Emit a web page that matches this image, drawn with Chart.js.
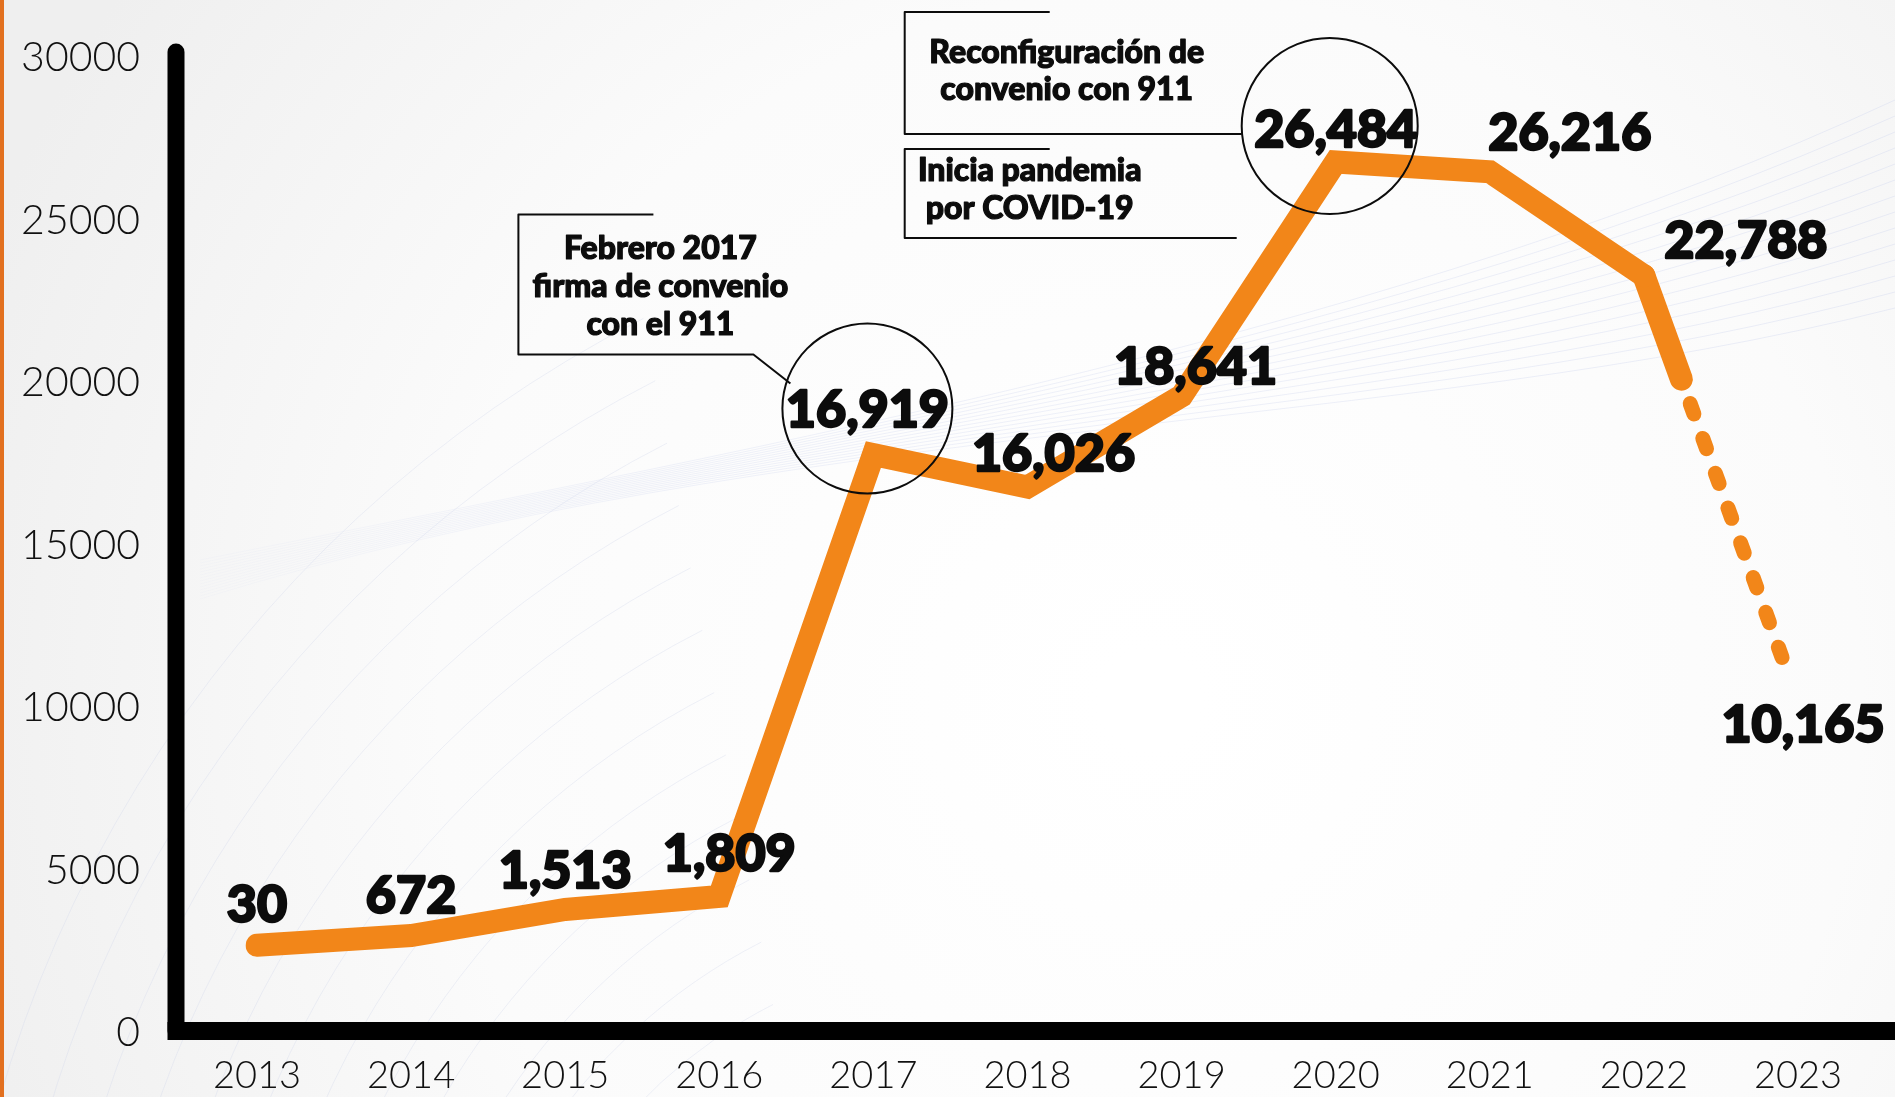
<!DOCTYPE html>
<html><head><meta charset="utf-8">
<script src="https://cdn.jsdelivr.net/npm/chart.js@4.4.0/dist/chart.umd.min.js"></script>
<style>html,body{margin:0;padding:0;background:#f4f4f4;overflow:hidden}canvas{display:block}</style>
</head><body>
<canvas id="c" width="1895" height="1097"></canvas>
<script>
// ---- data ----
const years = ['2013','2014','2015','2016','2017','2018','2019','2020','2021','2022','2023'];
// line heights as drawn in the picture
const plotted = [2700, 3000, 3800, 4200, 17800, 16800, 19600, 26800, 26500, 23300, 10200];
// values printed next to each point
const printed = [30, 672, 1513, 1809, 16919, 16026, 18641, 26484, 26216, 22788, 10165];
const yTicks = [0, 5000, 10000, 15000, 20000, 25000, 30000];
const circled = ['2017', '2020'];
const noteFeb2017 = ['Febrero 2017', 'firma de convenio', 'con el 911'];
const noteReconf = ['Reconfiguración de', 'convenio con 911'];
const notePandemia = ['Inicia pandemia', 'por COVID-19'];

const solidValues = plotted.map((v, i) => i < years.length - 1 ? v : null);
const trendValues = plotted.map((v, i) => i >= years.length - 2 ? v : null);

// ---- styles ----
const ORANGE = '#F28619';
const INK = '#0c0c0c';
const labelOffsets = [[0,-42],[0,-42],[0,-41],[10,-45],[-6,-47],[26,-35],[14,-31],[0,-34],[80,-41],[102,-37],[5,21]];
const circleOffsets = {'2017': [-6,-46,85], '2020': [-6,-36,88]};

const bgPlugin = {
  id: 'bg',
  beforeDraw(chart) {
    const {ctx, width, height} = chart;
    ctx.save();
    const g = ctx.createRadialGradient(1150, 700, 50, 1150, 700, 1250);
    g.addColorStop(0, '#ffffff');
    g.addColorStop(0.55, '#fbfbfb');
    g.addColorStop(1, '#efefef');
    ctx.fillStyle = g;
    ctx.fillRect(0, 0, width, height);
    ctx.strokeStyle = 'rgba(210,214,236,0.35)';
    ctx.lineWidth = 1;
    for (let k = 0; k < 12; k++) {
      ctx.beginPath();
      const r = 500 + k * 70;
      ctx.arc(1000 + k * 20, 1450, r, Math.PI * 1.0, Math.PI * 1.35);
      ctx.stroke();
    }
    for (let k = 0; k < 14; k++) {
      const lg = ctx.createLinearGradient(0, 0, 1895, 0);
      lg.addColorStop(0, 'rgba(212,218,240,0)');
      lg.addColorStop(0.35, 'rgba(212,218,240,0.35)');
      lg.addColorStop(1, 'rgba(212,218,240,0.45)');
      ctx.strokeStyle = lg;
      ctx.beginPath();
      ctx.moveTo(200, 560 + k * 3);
      ctx.bezierCurveTo(800, 440 - k * 2, 1400, 330 + k * 8, 1895, 100 + k * 16);
      ctx.stroke();
    }
    ctx.fillStyle = '#E2701F';
    ctx.fillRect(0, 0, 4, height);
    ctx.restore();
  }
};

const axesPlugin = {
  id: 'axesLines',
  beforeDatasetsDraw(chart) {
    const {ctx, chartArea, width} = chart;
    const ax = chartArea.left - 81;
    const by = chartArea.bottom - 2;
    ctx.save();
    ctx.strokeStyle = '#000';
    ctx.lineCap = 'round';
    ctx.lineWidth = 17;
    ctx.beginPath();
    ctx.moveTo(ax, chartArea.top - 6);
    ctx.lineTo(ax, by);
    ctx.stroke();
    ctx.lineCap = 'butt';
    ctx.lineWidth = 18;
    ctx.beginPath();
    ctx.moveTo(ax - 8.5, by);
    ctx.lineTo(width, by);
    ctx.stroke();
    ctx.restore();
  }
};

function heavyText(ctx, t, x, y, sw) {
  ctx.lineWidth = sw;
  ctx.lineJoin = 'round';
  ctx.strokeText(t, x, y);
  ctx.fillText(t, x, y);
}
function drawLines(ctx, lines, cx, cy, gap) {
  ctx.textAlign = 'center';
  lines.forEach((t, i) => heavyText(ctx, t, cx, cy + i * gap, 1.2));
}

const labelPlugin = {
  id: 'labels',
  afterDatasetsDraw(chart) {
    const {ctx} = chart;
    const xs = chart.scales.x, ys = chart.scales.y;
    ctx.save();
    ctx.fillStyle = INK;
    ctx.strokeStyle = INK;
    ctx.font = '900 52px Lato';
    ctx.textAlign = 'center';
    ctx.textBaseline = 'alphabetic';
    const pts = years.map((y, i) => [xs.getPixelForValue(i), ys.getPixelForValue(plotted[i])]);
    printed.forEach((v, i) => {
      const [dx, dy] = labelOffsets[i];
      heavyText(ctx, v.toLocaleString('en-US'), pts[i][0] + dx, pts[i][1] + dy + 19, 2.4);
    });
    ctx.lineWidth = 2;
    const circ = {};
    circled.forEach(yr => {
      const i = years.indexOf(yr);
      const [dx, dy, r] = circleOffsets[yr];
      const cx = pts[i][0] + dx, cy = pts[i][1] + dy;
      circ[yr] = [cx, cy, r];
      ctx.beginPath();
      ctx.arc(cx, cy, r, 0, Math.PI * 2);
      ctx.stroke();
    });
    ctx.lineCap = 'butt';
    ctx.font = '900 32px Lato';
    {
      const [cx, cy, r] = circ['2017'];
      const L = cx - 349, T = cy - 194, B = cy - 54;
      ctx.lineWidth = 2;
      ctx.beginPath();
      ctx.moveTo(L + 135, T); ctx.lineTo(L, T); ctx.lineTo(L, B); ctx.lineTo(L + 235, B);
      ctx.lineTo(cx - 77, cy - 25);
      ctx.stroke();
      drawLines(ctx, noteFeb2017, L + 142, T + 44, 38);
    }
    {
      const [cx, cy, r] = circ['2020'];
      const L = cx - 425;
      let T = cy - 114, B = cy + 8;
      ctx.lineWidth = 2;
      ctx.beginPath();
      ctx.moveTo(L + 145, T); ctx.lineTo(L, T); ctx.lineTo(L, B); ctx.lineTo(cx - r, B);
      ctx.stroke();
      drawLines(ctx, noteReconf, L + 162, T + 51, 37);
      T = cy + 23; B = cy + 112;
      ctx.lineWidth = 2;
      ctx.beginPath();
      ctx.moveTo(L + 145, T); ctx.lineTo(L, T); ctx.lineTo(L, B); ctx.lineTo(cx - r - 5, B);
      ctx.stroke();
      drawLines(ctx, notePandemia, L + 125, T + 32, 38);
    }
    ctx.restore();
  }
};

// dash pattern for the projected 2022-2023 stretch: skip the thick solid part, then 8 short dashes
const trendDash = [0, 136];
for (let k = 0; k < 7; k++) trendDash.push(11, 26);
trendDash.push(11, 3000);

new Chart(document.getElementById('c'), {
  type: 'line',
  data: {
    labels: years,
    datasets: [
      {data: solidValues, borderColor: ORANGE, borderWidth: 23, borderCapStyle: 'round', borderJoinStyle: 'miter', pointRadius: 0, tension: 0, fill: false},
      {data: trendValues, borderColor: ORANGE, borderWidth: 23, borderCapStyle: 'round', borderDash: [110, 3000], pointRadius: 0, tension: 0, fill: false},
      {data: trendValues, borderColor: ORANGE, borderWidth: 15, borderCapStyle: 'round', borderDash: trendDash, pointRadius: 0, tension: 0, fill: false}
    ]
  },
  options: {
    responsive: false,
    animation: false,
    devicePixelRatio: 1,
    layout: {padding: {top: 58, right: 97, left: 0, bottom: 0}},
    plugins: {legend: {display: false}, tooltip: {enabled: false}},
    scales: {
      x: {
        offset: false,
        grid: {display: false, drawTicks: false},
        border: {display: false},
        ticks: {color: '#111', font: {family: 'Lato', size: 38, weight: '300'}, padding: 20, maxRotation: 0, autoSkip: false},
        afterFit(s) { s.height = 64; s.paddingLeft = 0; s.paddingRight = 0; }
      },
      y: {
        min: 0, max: 30000,
        afterBuildTicks(s) { s.ticks = yTicks.map(v => ({value: v})); },
        grid: {display: false, drawTicks: false},
        border: {display: false},
        ticks: {color: '#111', font: {family: 'Lato', size: 41, weight: '300'}, padding: 117, callback: v => String(v)},
        afterFit(s) { s.width = 257; s.paddingTop = 0; s.paddingBottom = 0; }
      }
    }
  },
  plugins: [bgPlugin, axesPlugin, labelPlugin]
});
</script>
</body></html>
